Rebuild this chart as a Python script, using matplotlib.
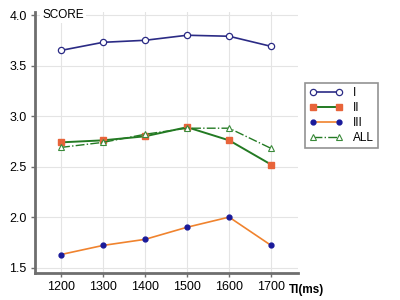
import numpy as np
import matplotlib
matplotlib.use("Agg")
import matplotlib.pyplot as plt

plt.rcParams['font.family'] = ['Liberation Sans', 'DejaVu Sans']

ti = [1200, 1300, 1400, 1500, 1600, 1700]
score_i = [3.65, 3.73, 3.75, 3.80, 3.79, 3.69]
score_ii = [2.74, 2.76, 2.80, 2.89, 2.76, 2.52]
score_iii = [1.63, 1.72, 1.78, 1.90, 2.00, 1.72]
score_all = [2.69, 2.74, 2.82, 2.88, 2.88, 2.68]

fig = plt.figure(figsize=(4, 3), dpi=100)
ax = fig.add_axes([35 / 400, 1 - 272.7 / 300, (298 - 35) / 400, (272.7 - 12) / 300])

ax.plot(ti, score_i, color='#2b2b85', lw=1.2, marker='o', ms=4.5,
        mfc='white', mec='#2b2b85', mew=0.9, label='I')
ax.plot(ti, score_ii, color='#237a23', lw=1.4, marker='s', ms=4.5,
        mfc='#e8643a', mec='#e8643a', label='II')
ax.plot(ti, score_iii, color='#f0832e', lw=1.2, marker='o', ms=3.5,
        mfc='#1a1a9a', mec='#1a1a9a', label='III')
ax.plot(ti, score_all, color='#237a23', lw=1.0, ls='-.', marker='^', ms=5,
        mfc='white', mec='#3a8a3a', mew=0.8, label='ALL')

ax.set_xlim(1138, 1764)
ax.set_ylim(1.45, 4.03)
ax.set_xticks(ti)
ax.set_yticks([1.5, 2.0, 2.5, 3.0, 3.5, 4.0])
ax.set_yticklabels(['1.5', '2.0', '2.5', '3.0', '3.5', '4.0'])
ax.grid(True, color='#e4e4e4', lw=0.8)
ax.set_axisbelow(True)

for s in ['top', 'right']:
    ax.spines[s].set_visible(False)
for s in ['left', 'bottom']:
    ax.spines[s].set_color('#6e6e6e')
    ax.spines[s].set_linewidth(2)
ax.tick_params(axis='both', labelsize=9, length=3, color='#6e6e6e', width=1,
               pad=3)

ax.text(1155, 4.0, 'SCORE', fontsize=8.5, va='center', ha='left',
        bbox=dict(facecolor='white', edgecolor='none', pad=1.5))
fig.text(289 / 400, 1 - 290 / 300, 'TI(ms)', fontsize=8.5, fontweight='bold',
         va='center', ha='left')

leg = fig.legend(loc='upper left', bbox_to_anchor=(305 / 400, 1 - 83 / 300),
                 fontsize=8.5, frameon=True, fancybox=False, handlelength=2.8,
                 numpoints=2, borderpad=0.35, labelspacing=0.25,
                 handletextpad=0.9, borderaxespad=0)
leg.get_frame().set_edgecolor('#777777')
leg.get_frame().set_linewidth(1.2)

plt.savefig('out.png', dpi=100)
